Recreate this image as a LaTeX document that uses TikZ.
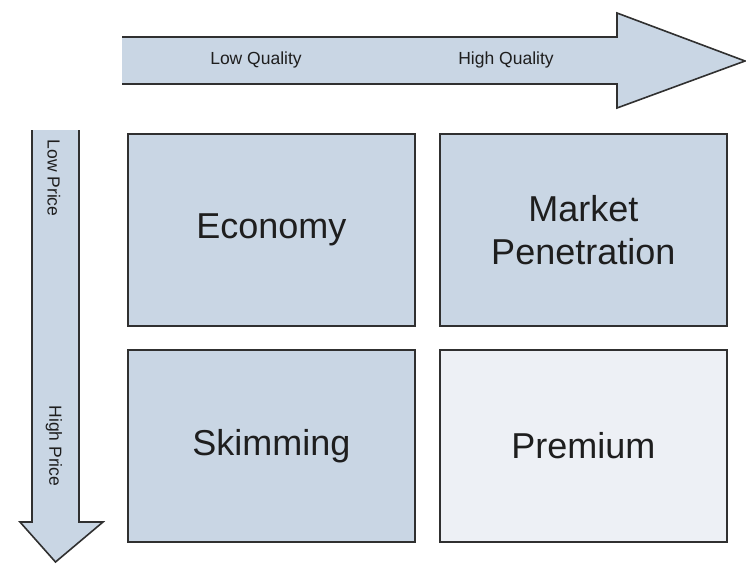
\documentclass[tikz,border=0pt]{standalone}
\usepackage{fontspec}
\setmainfont{Liberation Sans}
\definecolor{boxfill}{HTML}{C9D6E4}
\definecolor{lightfill}{HTML}{EDF0F5}
\definecolor{edge}{HTML}{303030}
\definecolor{txt}{HTML}{1E1E1E}
\begin{document}
\begin{tikzpicture}[x=1pt,y=-1pt,
  cell/.style={draw=edge,line width=1.6pt,fill=boxfill,minimum width=287pt,minimum height=192pt,
    inner sep=0pt,anchor=north west,text=txt,font=\fontsize{36}{40}\selectfont,align=center},
  axislabel/.style={text=txt,font=\fontsize{17.5}{20}\selectfont,inner sep=0pt},
  arrowline/.style={draw=edge,line width=1.6pt,line join=miter}]
\useasboundingbox (0,0) rectangle (746,563);
% top arrow
\fill[boxfill] (122,37) -- (617,37) -- (617,13) -- (745,61) -- (617,108) -- (617,84) -- (122,84) -- cycle;
\draw[arrowline] (122,37) -- (617,37) -- (617,13) -- (745,61) -- (617,108) -- (617,84) -- (122,84);
\node[axislabel] (lq) at (256,60) {Low Quality};
\node[axislabel] (hq) at (506,60) {High Quality};
% left arrow
\fill[boxfill] (32,130) -- (32,522) -- (20,522) -- (55.5,562) -- (103,522) -- (79,522) -- (79,130) -- cycle;
\draw[arrowline] (32,130) -- (32,522) -- (20,522) -- (55.5,562) -- (103,522) -- (79,522) -- (79,130);
\node[axislabel,rotate=-90] (lp) at (54,178) {Low Price};
\node[axislabel,rotate=-90] (hp) at (54,446) {High Price};
% quadrants
\node[cell] (eco) at (127,133) {Economy};
\node[cell] (mkt) at (439,133) {Market\\[3pt]Penetration};
\node[cell] (skm) at (127,349) {Skimming};
\node[cell,fill=lightfill] (prm) at (439,349) {Premium};
\end{tikzpicture}
\end{document}
